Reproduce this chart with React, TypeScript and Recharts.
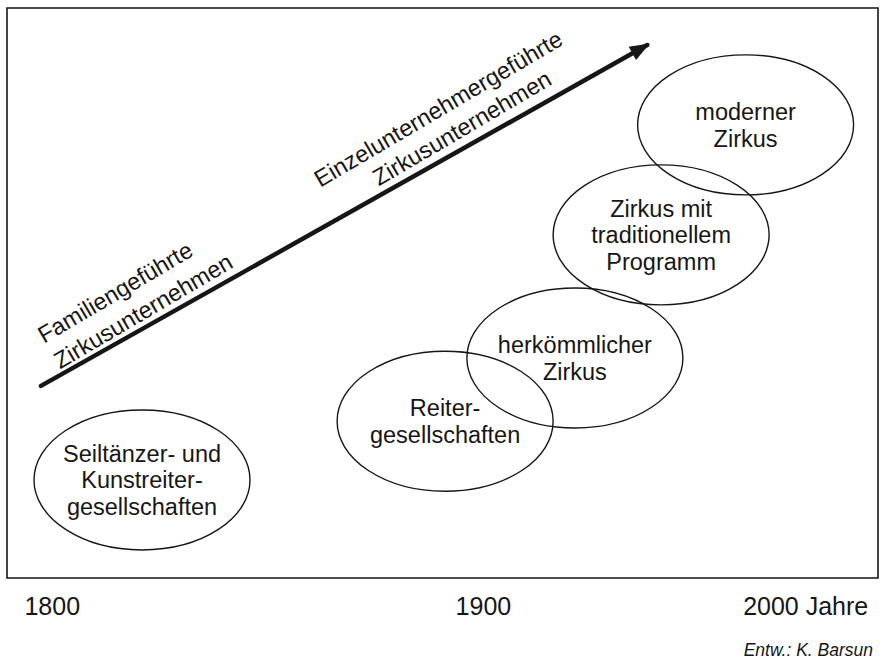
import React from "react";
import { ComposedChart, XAxis, YAxis, Line, Scatter, ReferenceArea } from "recharts";

// schematic time axis, 0..100 across the frame (not linear in years)
const tickValues = [5.2, 54.7, 91.7];
const tickLabels = ["1800", "1900", "2000 Jahre"];

const stageNames = [
  ["Seiltänzer- und", "Kunstreiter-", "gesellschaften"],
  ["Reiter-", "gesellschaften"],
  ["herkömmlicher", "Zirkus"],
  ["Zirkus mit", "traditionellem", "Programm"],
  ["moderner", "Zirkus"],
];
const stageX = [15.5, 50.3, 65.2, 75.1, 84.8];
const stageY = [17.2, 27.5, 38.6, 60.2, 79.5];

const arrowX = [3.9, 73.5];
const arrowY = [33.7, 93.5];

const trendLabels = ["Familiengeführte", "Zirkusunternehmen", "Einzelunternehmergeführte", "Zirkusunternehmen"];
const trendX = [12.9, 16.1, 50.0, 52.7];
const trendY = [48.9, 45.6, 81.1, 77.7];

const FONT = "'Liberation Sans', Arial, Helvetica, sans-serif";
const INK = "#161616";

const stageData = stageNames.map((lines, i) => ({ x: stageX[i], y: stageY[i], lines }));
const arrowData = arrowX.map((x, i) => ({ x, y: arrowY[i] }));
const trendData = trendLabels.map((text, i) => ({ x: trendX[i], y: trendY[i], text }));

function StageShape(props: any) {
  const { cx, cy, payload } = props;
  const lines: string[] = payload.lines;
  const step = 26.5;
  const top = cy - ((lines.length - 1) * step) / 2;
  return (
    <g>
      <ellipse cx={cx} cy={cy} rx={108} ry={70} fill="none" stroke={INK} strokeWidth={1.4} />
      {lines.map((t, i) => (
        <text
          key={i}
          x={cx}
          y={top + i * step}
          dy="0.36em"
          textAnchor="middle"
          fontFamily={FONT}
          fontSize={23.5}
          fill={INK}
        >
          {t}
        </text>
      ))}
    </g>
  );
}

function TrendLabel(props: any) {
  const { cx, cy, payload } = props;
  return (
    <text
      x={cx}
      y={cy}
      transform={`rotate(-30.5 ${cx} ${cy})`}
      textAnchor="middle"
      fontFamily={FONT}
      fontSize={23.5}
      fill={INK}
    >
      {payload.text}
    </text>
  );
}

function ArrowHead(props: any) {
  const { cx, cy, index, points } = props;
  if (index !== arrowData.length - 1) return <g key={index} />;
  let ang = (-29.65 * Math.PI) / 180;
  if (points && points.length > 1) {
    const p0 = points[0];
    ang = Math.atan2(cy - p0.y, cx - p0.x);
  }
  const len = 20;
  const half = 7.5;
  const tipX = cx + Math.cos(ang) * 3;
  const tipY = cy + Math.sin(ang) * 3;
  const bx = tipX - Math.cos(ang) * len;
  const by = tipY - Math.sin(ang) * len;
  const nx = -Math.sin(ang) * half;
  const ny = Math.cos(ang) * half;
  return (
    <polygon
      key={index}
      points={`${tipX},${tipY} ${bx + nx},${by + ny} ${bx - nx},${by - ny}`}
      fill={INK}
    />
  );
}

function AxisTick(props: any) {
  const { x, y, payload } = props;
  const i = tickValues.indexOf(payload.value);
  return (
    <text x={x} y={y + 37} textAnchor="middle" fontFamily={FONT} fontSize={25} fill={INK}>
      {tickLabels[i]}
    </text>
  );
}

export default function App() {
  return (
    <div style={{ position: "absolute", left: 0, top: 0, width: 883, height: 663, background: "#fff" }}>
      <ComposedChart width={883} height={663} margin={{ top: 8, right: 5, left: 7, bottom: 35 }}>
        <XAxis
          type="number"
          dataKey="x"
          domain={[0, 100]}
          ticks={tickValues}
          interval={0}
          axisLine={false}
          tickLine={false}
          tickSize={0}
          tickMargin={0}
          height={50}
          tick={<AxisTick />}
        />
        <YAxis type="number" dataKey="y" domain={[0, 100]} hide />
        <ReferenceArea x1={0} x2={100} y1={0} y2={100} fill="none" stroke={INK} strokeWidth={1.6} />
        <Line
          data={arrowData}
          dataKey="y"
          type="linear"
          stroke={INK}
          strokeWidth={4.5}
          strokeLinecap="round"
          dot={ArrowHead}
          activeDot={false}
          isAnimationActive={false}
        />
        <Scatter data={trendData} dataKey="y" shape={TrendLabel} isAnimationActive={false} />
        <Scatter data={stageData} dataKey="y" shape={StageShape} isAnimationActive={false} />
      </ComposedChart>
      <div
        style={{
          position: "absolute",
          top: 641,
          right: 10,
          fontFamily: FONT,
          fontStyle: "italic",
          fontSize: 17.5,
          lineHeight: "18px",
          color: INK,
        }}
      >
        Entw.: K. Barsun
      </div>
    </div>
  );
}
